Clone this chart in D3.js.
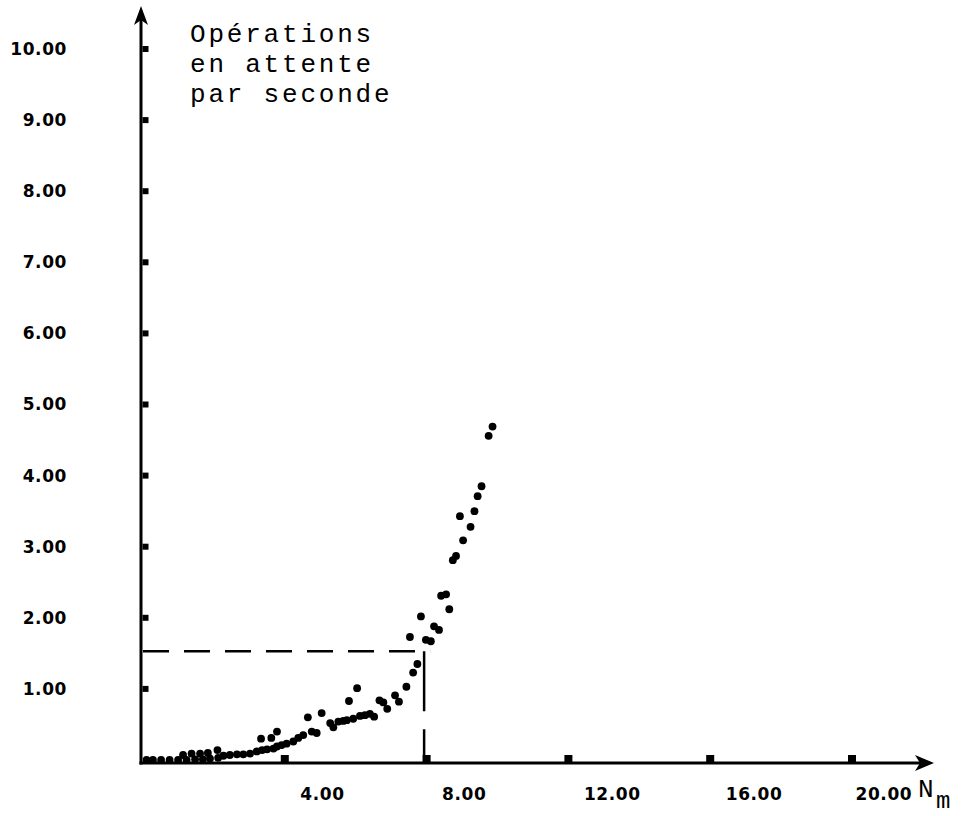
<!DOCTYPE html>
<html>
<head>
<meta charset="utf-8">
<script src="https://cdn.jsdelivr.net/npm/d3@7"></script>
<style>
  html, body { margin: 0; padding: 0; background: #fff; }
  svg { display: block; }
  .tick-label { font-family: "DejaVu Sans", sans-serif; font-weight: bold; font-size: 17px; letter-spacing: 0.6px; fill: #000; }
  .mono { font-family: "Liberation Mono", "Courier New", monospace; fill: #000; }
</style>
</head>
<body>
<svg id="chart" width="962" height="816"></svg>
<script>
// x: N_m, y: operations en attente par seconde
var xTicks = [4, 8, 12, 16, 20];
var yTicks = [1, 2, 3, 4, 5, 6, 7, 8, 9, 10];
var titleLines = ['Opérations', 'en attente', 'par seconde'];

var nmValues = [
  0.10, 0.28, 0.51, 0.75, 0.99, 1.13, 1.23, 1.37, 1.47, 1.61,
  1.69, 1.83, 1.89, 2.10, 2.12, 2.27, 2.45, 2.65, 2.83, 3.02,
  3.21, 3.33, 3.36, 3.50, 3.62, 3.68, 3.78, 3.78, 3.91, 4.05,
  4.24, 4.38, 4.52, 4.65, 4.76, 4.90, 5.04, 5.28, 5.37, 5.51,
  5.65, 5.75, 5.81, 5.93, 6.04, 6.12, 6.26, 6.40, 6.52, 6.67,
  6.78, 6.89, 7.11, 7.22, 7.43, 7.53, 7.62, 7.74, 7.84, 7.98,
  8.12, 8.21, 8.35, 8.41, 8.55, 8.64, 8.74, 8.83, 8.94, 9.03,
  9.24, 9.35, 9.44, 9.55, 9.75, 9.86
];
var opsValues = [
  0.00, 0.00, 0.00, 0.00, 0.00, 0.07, 0.00, 0.09, 0.01, 0.09,
  0.01, 0.10, 0.02, 0.14, 0.03, 0.06, 0.07, 0.08, 0.08, 0.09,
  0.12, 0.30, 0.14, 0.15, 0.31, 0.16, 0.40, 0.19, 0.21, 0.23,
  0.26, 0.31, 0.35, 0.60, 0.40, 0.38, 0.66, 0.52, 0.46, 0.54,
  0.55, 0.56, 0.83, 0.58, 1.01, 0.62, 0.63, 0.65, 0.61, 0.84,
  0.81, 0.72, 0.91, 0.82, 1.03, 1.73, 1.23, 1.35, 2.02, 1.69,
  1.67, 1.88, 1.83, 2.31, 2.33, 2.12, 2.81, 2.87, 3.43, 3.09,
  3.28, 3.50, 3.71, 3.85, 4.56, 4.69
];
// dashed guide
var refNm = 7.93;
var refOps = 1.53;

var svg = d3.select('#chart');

var x = d3.scaleLinear().domain([0, 20]).range([143, 852]);
var y = d3.scaleLinear().domain([0, 10]).range([760, 49]);

var x0 = x(0) - 2, y0 = y(0) + 3;

// axis lines + arrows
svg.append('line')
   .attr('x1', x0).attr('y1', y0 + 1.5)
   .attr('x2', x0).attr('y2', 14)
   .attr('stroke', '#000').attr('stroke-width', 3);
svg.append('path')
   .attr('d', 'M' + x0 + ',6 L' + (x0 - 7) + ',25 L' + x0 + ',20 L' + (x0 + 7) + ',25 Z')
   .attr('fill', '#000');

svg.append('line')
   .attr('x1', x0 - 1.5).attr('y1', y0)
   .attr('x2', 928).attr('y2', y0)
   .attr('stroke', '#000').attr('stroke-width', 3);
svg.append('path')
   .attr('d', 'M934,' + y0 + ' L915,' + (y0 - 8) + ' L920,' + y0 + ' L915,' + (y0 + 8) + ' Z')
   .attr('fill', '#000');

// tick squares
svg.append('g').selectAll('rect')
   .data(yTicks).enter().append('rect')
   .attr('x', x0 + 1.5).attr('y', function(d){ return y(d) - 3; })
   .attr('width', 6).attr('height', 6)
   .attr('fill', '#000');
svg.append('g').selectAll('rect')
   .data(xTicks).enter().append('rect')
   .attr('x', function(d){ return x(d) - 4; }).attr('y', y0 - 8)
   .attr('width', 8).attr('height', 7)
   .attr('fill', '#000');

// tick labels via d3 axes
var yAxis = svg.append('g')
   .attr('transform', 'translate(' + x0 + ',0)')
   .call(d3.axisLeft(y).tickValues(yTicks).tickSize(0).tickPadding(74).tickFormat(d3.format('.2f')));
yAxis.select('.domain').remove();
yAxis.selectAll('text').attr('class', 'tick-label').attr('font-family', null).attr('font-size', null);

var xAxis = svg.append('g')
   .attr('transform', 'translate(0,' + y0 + ')')
   .call(d3.axisBottom(x).tickValues(xTicks).tickSize(0).tickPadding(25).tickFormat(d3.format('.2f')));
xAxis.select('.domain').remove();
// labels sit a little right of their tick, the last one tucked before N_m
xAxis.selectAll('text').attr('class', 'tick-label').attr('font-family', null).attr('font-size', null)
   .attr('text-anchor', 'start')
   .attr('dx', function(d){ return d === 20 ? 3 : 15; });

// dashed guide lines
svg.append('line')
   .attr('x1', x(0)).attr('y1', y(refOps))
   .attr('x2', x(refNm) + 6).attr('y2', y(refOps))
   .attr('stroke', '#000').attr('stroke-width', 2.5)
   .attr('stroke-dasharray', '26,15');
svg.append('line')
   .attr('x1', x(refNm)).attr('y1', y(refOps))
   .attr('x2', x(refNm)).attr('y2', y0)
   .attr('stroke', '#000').attr('stroke-width', 2.5)
   .attr('stroke-dasharray', '60,18');

// points
svg.append('g').selectAll('circle')
   .data(nmValues).enter().append('circle')
   .attr('cx', function(d){ return x(d); })
   .attr('cy', function(d, i){ return y(opsValues[i]); })
   .attr('r', 3.9)
   .attr('fill', '#000');

// titles
svg.append('g').selectAll('text')
   .data(titleLines).enter().append('text')
   .attr('class', 'mono')
   .attr('x', 190).attr('y', function(d, i){ return 42 + i * 30; })
   .attr('font-size', 26)
   .attr('letter-spacing', 2.8)
   .text(function(d){ return d; });

svg.append('text').attr('class', 'mono')
   .attr('x', 918).attr('y', 797).attr('font-size', 26)
   .text('N');
svg.append('text').attr('class', 'mono')
   .attr('x', 936).attr('y', 808).attr('font-size', 24)
   .text('m');
</script>
</body>
</html>
